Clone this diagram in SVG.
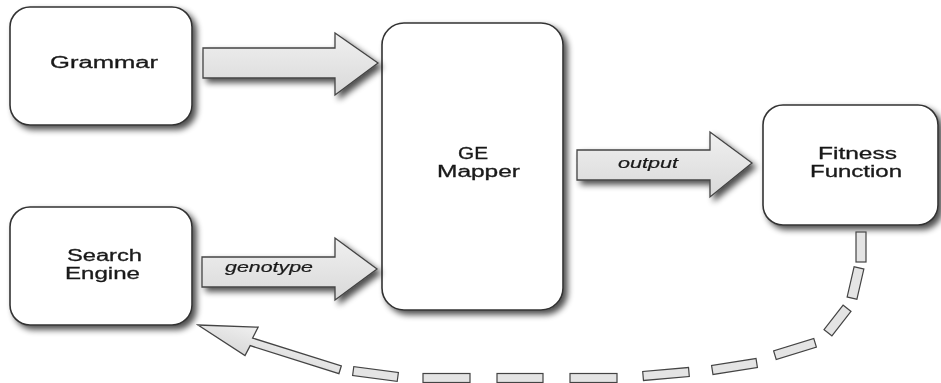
<svg xmlns="http://www.w3.org/2000/svg" width="941" height="383" viewBox="0 0 941 383">
  <defs>
    <filter id="shadow" x="-20%" y="-20%" width="140%" height="140%">
      <feGaussianBlur in="SourceAlpha" stdDeviation="3"/>
      <feOffset dx="4" dy="4" result="blur"/>
      <feComponentTransfer><feFuncA type="linear" slope="0.7"/></feComponentTransfer>
      <feMerge><feMergeNode/><feMergeNode in="SourceGraphic"/></feMerge>
    </filter>
    <linearGradient id="arrowFill" x1="0" y1="0" x2="0" y2="1">
      <stop offset="0" stop-color="#f0f0f0"/>
      <stop offset="1" stop-color="#d9d9d9"/>
    </linearGradient>
    <style>
      .box { fill: #ffffff; stroke: #333333; stroke-width: 1.6; }
      .arrow { fill: url(#arrowFill); stroke: #444444; stroke-width: 1.3; stroke-linejoin: miter; }
      .dash { fill: #e4e4e4; stroke: #444444; stroke-width: 1.2; }
      .label { font-family: "Liberation Sans", Arial, sans-serif; font-size: 16px; fill: #1a1a1a; stroke: #1a1a1a; stroke-width: 0.3; }
      .elabel { font-family: "Liberation Sans", Arial, sans-serif; font-size: 14px; font-style: italic; fill: #1a1a1a; stroke: #1a1a1a; stroke-width: 0.2; }
    </style>
  </defs>

  <g id="grammar" filter="url(#shadow)">
    <rect class="box" x="10" y="7" width="182" height="118" rx="20" ry="20"/>
    <text class="label" x="50" y="68" textLength="108" lengthAdjust="spacingAndGlyphs">Grammar</text>
  </g>

  <g id="search-engine" filter="url(#shadow)">
    <rect class="box" x="10" y="207" width="182" height="118" rx="20" ry="20"/>
    <text class="label" x="67" y="261" textLength="75" lengthAdjust="spacingAndGlyphs">Search</text>
    <text class="label" x="65" y="279" textLength="75" lengthAdjust="spacingAndGlyphs">Engine</text>
  </g>

  <g id="ge-mapper" filter="url(#shadow)">
    <rect class="box" x="382" y="23" width="181" height="287" rx="22" ry="22"/>
    <text class="label" x="458" y="159" textLength="30" lengthAdjust="spacingAndGlyphs">GE</text>
    <text class="label" x="437" y="177" textLength="83" lengthAdjust="spacingAndGlyphs">Mapper</text>
  </g>

  <g id="fitness-function" filter="url(#shadow)">
    <rect class="box" x="763" y="105" width="175" height="120" rx="20" ry="20"/>
    <text class="label" x="818" y="159" textLength="79" lengthAdjust="spacingAndGlyphs">Fitness</text>
    <text class="label" x="810" y="177" textLength="92" lengthAdjust="spacingAndGlyphs">Function</text>
  </g>

  <g id="connectors">
    <g filter="url(#shadow)">
      <polygon class="arrow" points="203,48 335,48 335,33 378,63 335,95 335,78 203,78"/>
    </g>
    <g filter="url(#shadow)">
      <polygon class="arrow" points="202,257 335,257 335,238 377,269 335,300 335,287 202,287"/>
      <text class="elabel" x="225" y="272" textLength="88" lengthAdjust="spacingAndGlyphs">genotype</text>
    </g>
    <g filter="url(#shadow)">
      <polygon class="arrow" points="577,150 710,150 710,132 752,163 710,197 710,180 577,180"/>
      <text class="elabel" x="618" y="168" textLength="60" lengthAdjust="spacingAndGlyphs">output</text>
    </g>
    <g id="feedback">
      <rect class="dash" x="-15" y="-5" width="30" height="10" transform="translate(861,247) rotate(90)"/>
      <rect class="dash" x="-15.5" y="-5" width="31" height="10" transform="translate(855.5,283) rotate(103)"/>
      <rect class="dash" x="-15.5" y="-5" width="31" height="10" transform="translate(837.5,320.5) rotate(128)"/>
      <rect class="dash" x="-21" y="-4.5" width="42" height="9" transform="translate(795,349) rotate(163)"/>
      <rect class="dash" x="-22.5" y="-4.5" width="45" height="9" transform="translate(734.5,366.5) rotate(171)"/>
      <rect class="dash" x="-23" y="-4.5" width="46" height="9" transform="translate(666,374) rotate(175)"/>
      <rect class="dash" x="-23.5" y="-4.5" width="47" height="9" transform="translate(593.5,378)"/>
      <rect class="dash" x="-23" y="-4.5" width="46" height="9" transform="translate(520,378)"/>
      <rect class="dash" x="-23.5" y="-4.5" width="47" height="9" transform="translate(446.5,378)"/>
      <rect class="dash" x="-22.5" y="-4.5" width="45" height="9" transform="translate(375.5,374) rotate(7.6)"/>
      <polygon class="arrow" transform="translate(198,325) rotate(17.5)" points="0,0 58,-16 56,-4 149,-4 149,4 56,4 54,15"/>
    </g>
  </g>
</svg>
